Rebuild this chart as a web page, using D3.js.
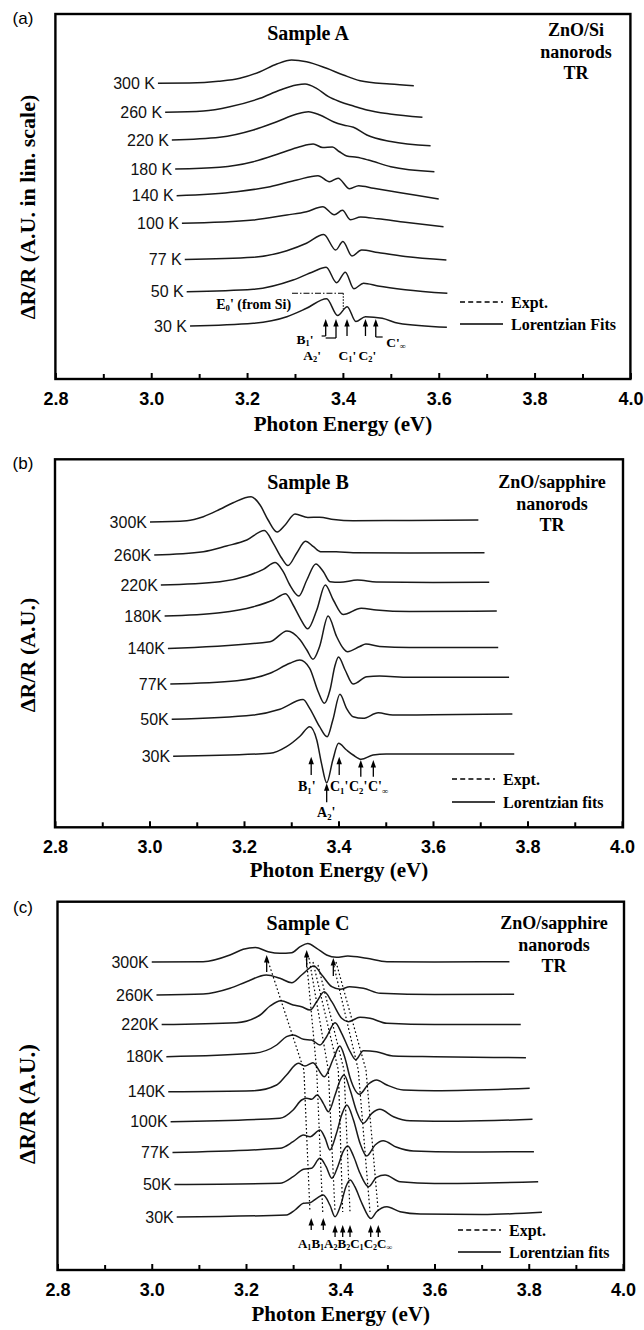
<!DOCTYPE html>
<html><head><meta charset="utf-8">
<script src="https://cdn.jsdelivr.net/npm/d3@7"></script>
<style>body{margin:0;background:#fff}</style>
</head><body>
<svg id="chart" width="644" height="1330"></svg>
<script>
// ---------------- DATA ----------------
const energyTicks = [2.8, 3.0, 3.2, 3.4, 3.6, 3.8, 4.0];
const energyMinorTicks = [2.9, 3.1, 3.3, 3.5, 3.7, 3.9];

// Panel (a) ZnO/Si
const tempsA = ["300 K","260 K","220 K","180 K","140 K","100 K","77 K","50 K","30 K"];
const offsetsA = [295.7,266.7,239,210,183.3,155.7,119.5,87.3,53];
const a300 = [[3.014,0],[3.08,0.3],[3.14,2],[3.185,5],[3.227,11.6],[3.262,19.3],[3.293,23.3],[3.324,21.6],[3.366,15],[3.401,8.3],[3.436,2.6],[3.498,-0.7],[3.548,-2.4]];
const a260 = [[3.029,0],[3.109,1.3],[3.164,5.6],[3.227,14],[3.269,22.3],[3.303,27.3],[3.321,28.3],[3.345,24],[3.37,15.6],[3.394,10.6],[3.422,6.3],[3.45,2.3],[3.498,-1.7],[3.566,-5]];
const a220 = [[3.043,0],[3.143,2.7],[3.213,10],[3.262,18.3],[3.304,26],[3.328,28.3],[3.352,25],[3.38,18.3],[3.401,15],[3.422,12.7],[3.45,5],[3.5,-1.5],[3.583,-5.7]];
const a180 = [[3.05,0],[3.143,1.7],[3.213,7.3],[3.269,15.7],[3.31,22.3],[3.338,25],[3.358,21.5],[3.378,22],[3.392,17.5],[3.408,13],[3.429,11.7],[3.453,9],[3.5,2.3],[3.591,-2.7]];
const a140 = [[3.053,0],[3.178,4],[3.248,9],[3.304,15.7],[3.348,20],[3.372,14],[3.39,17.5],[3.414,7],[3.433,10],[3.464,7.4],[3.52,3],[3.6,-3.3]];
const a100 = [[3.064,0],[3.213,3.3],[3.283,8.3],[3.324,11.6],[3.358,16.6],[3.382,8.5],[3.399,13],[3.416,3.5],[3.437,6.3],[3.473,4.5],[3.53,1],[3.61,-3.4]];
const a77  = [[3.07,0],[3.213,2.2],[3.283,8.8],[3.324,16.2],[3.36,25],[3.385,9.5],[3.4,18],[3.419,3.5],[3.439,9.5],[3.473,7],[3.53,3],[3.616,-0.5]];
const a50  = [[3.074,0],[3.213,2.4],[3.296,11.7],[3.338,20],[3.365,24.5],[3.387,9],[3.405,19.5],[3.423,3],[3.443,8.4],[3.473,5.7],[3.53,2],[3.618,-1.6]];
const a30  = [[3.081,0],[3.213,2.7],[3.283,9.3],[3.324,17.7],[3.366,27.3],[3.389,10.5],[3.409,19.3],[3.427,4.5],[3.447,9.3],[3.482,7.7],[3.516,2.7],[3.617,-1.3]];
const arrowsA = [[3.3641,60,43],[3.3856,60,41],[3.4086,60,43],[3.4471,60,43],[3.4686,60,42]];
const labelsA = [["B","1","'",3.3032,40],["A","2","'",3.3175,24],["C","1","'",3.3908,24],["C","2","'",3.4325,24],["C'","\u221E","",3.4905,37]];

// Panel (b) ZnO/sapphire
const tempsB = ["300K","260K","220K","180K","140K","77K","50K","30K"];
const offsetsB = [305.3,272.3,242.3,211.3,178.8,143.3,108,71];
const b300 = [[3.001,0],[3.079,1.3],[3.114,5.3],[3.149,12.7],[3.177,19.3],[3.215,25.3],[3.234,17],[3.251,2],[3.27,-10],[3.287,-3],[3.308,8],[3.335,4.5],[3.36,4.8],[3.39,2.5],[3.431,1.3],[3.55,1.5],[3.696,2]];
const b260 = [[3.01,0],[3.114,3.3],[3.163,9],[3.206,15],[3.243,24.5],[3.262,11.7],[3.28,-3.3],[3.293,-10.5],[3.312,2.3],[3.33,13.8],[3.347,8.3],[3.362,3.3],[3.395,3.3],[3.431,2.3],[3.55,2],[3.709,2.3]];
const b220 = [[3.024,0],[3.149,3.3],[3.206,9],[3.241,15.7],[3.266,22.5],[3.283,13.3],[3.297,0],[3.316,-11],[3.333,5],[3.352,21],[3.368,13.3],[3.382,3.3],[3.403,2.7],[3.44,5],[3.48,3],[3.6,2.5],[3.719,2.7]];
const b180 = [[3.032,0],[3.149,3.3],[3.22,9.3],[3.262,16],[3.288,22.3],[3.304,11],[3.319,-2.3],[3.335,-12.8],[3.354,6],[3.372,31],[3.389,16],[3.41,1.5],[3.448,7.7],[3.48,6],[3.55,4.5],[3.735,5]];
const b140 = [[3.039,0],[3.255,6.8],[3.291,17.5],[3.319,8.5],[3.333,-1.5],[3.346,-10.8],[3.36,2],[3.378,32.5],[3.396,12],[3.41,0.2],[3.419,-3.2],[3.445,2],[3.458,4.5],[3.487,2],[3.55,1],[3.738,1]];
const b77  = [[3.044,0],[3.185,3.3],[3.255,10.7],[3.297,20.7],[3.318,24],[3.339,15.7],[3.357,-7.7],[3.37,-19.3],[3.382,-6],[3.392,17.3],[3.4,27],[3.414,14],[3.431,0],[3.46,7.3],[3.487,8],[3.55,6.7],[3.761,6.7]];
const b50  = [[3.047,0],[3.22,4.3],[3.276,10],[3.325,19.7],[3.339,11],[3.36,-7.4],[3.376,-17.5],[3.388,-0.7],[3.403,25],[3.417,11],[3.431,2.6],[3.452,1],[3.484,6.5],[3.515,4.3],[3.6,4.5],[3.768,5.3]];
const b30  = [[3.05,0],[3.255,3],[3.29,9.6],[3.319,20.3],[3.339,29.6],[3.354,16.3],[3.364,-7],[3.375,-26.5],[3.388,-3.7],[3.4,13],[3.417,6.3],[3.431,1.3],[3.448,-3],[3.473,1.3],[3.501,2.3],[3.6,2.3],[3.772,2.3]];
const arrowsB = [[3.3422,70.6,52.3],[3.4015,70.6,52.3],[3.4472,67.3,50.6],[3.4737,67.3,50.6],[3.375,44,25]];
const labelsB = [["B","1","'",3.3143,41],["C","1","'",3.382,41],["C","2","'",3.4222,41],["C'","\u221E","",3.4624,41],["A","2","'",3.3545,15]];

// Panel (c) ZnO/sapphire
const tempsC = ["300K","260K","220K","180K","140K","100K","77K","50K","30K"];
const offsetsC = [308,275,245.5,213.3,178.3,148.3,117.5,85.5,53];
const c300 = [[3.0,0],[3.109,0.3],[3.166,7],[3.194,12.7],[3.22,14.5],[3.247,10.3],[3.272,8.7],[3.297,9.3],[3.315,15.3],[3.331,18.5],[3.35,13.7],[3.371,7],[3.392,4.7],[3.416,6],[3.456,3.7],[3.499,0.3],[3.6,0],[3.759,0.3]];
const c260 = [[3.01,0],[3.109,1],[3.166,6.7],[3.201,13.3],[3.243,20],[3.272,16.7],[3.297,12.3],[3.318,20],[3.344,29],[3.361,20],[3.382,8.3],[3.4,5.7],[3.42,8.3],[3.449,6.7],[3.485,1.7],[3.6,0.5],[3.769,0.7]];
const c220 = [[3.021,0],[3.18,1.8],[3.23,9.5],[3.251,18.5],[3.274,23.8],[3.3,19.5],[3.318,17.8],[3.336,14.5],[3.35,22.8],[3.366,32.8],[3.382,22.8],[3.403,6.2],[3.417,2.8],[3.442,7.2],[3.463,6.2],[3.499,1.2],[3.6,0],[3.783,0]];
const c180 = [[3.031,0],[3.216,3.4],[3.265,11.7],[3.286,20],[3.3,21.7],[3.322,17.4],[3.339,16.7],[3.357,11.7],[3.371,20],[3.389,34],[3.403,23.4],[3.421,5],[3.433,-3],[3.449,6],[3.477,5],[3.512,0.7],[3.6,0],[3.794,-1]];
const c140 = [[3.035,0],[3.216,1],[3.265,6.7],[3.286,16.7],[3.311,28.4],[3.325,25.7],[3.342,29],[3.366,15],[3.386,33.7],[3.399,45.7],[3.41,33.7],[3.421,13.7],[3.441,-2.5],[3.46,7.7],[3.477,11.7],[3.499,6.7],[3.534,1.7],[3.6,1],[3.802,3.4]];
const c100 = [[3.04,0],[3.272,3.4],[3.3,11.7],[3.318,21.7],[3.329,23.4],[3.339,22.4],[3.351,26.7],[3.364,18.4],[3.375,10],[3.389,26.7],[3.4,41.7],[3.408,46.7],[3.421,31.7],[3.435,10],[3.449,-1.6],[3.467,8.4],[3.484,12.4],[3.513,5],[3.548,1],[3.65,0.5],[3.808,2.4]];
const c77  = [[3.044,0],[3.272,4.2],[3.3,10.8],[3.322,17.5],[3.336,15.8],[3.357,22.5],[3.368,14.2],[3.378,2.5],[3.392,19.2],[3.403,37.5],[3.414,47.5],[3.428,32.5],[3.442,9.2],[3.456,-3.5],[3.474,7.5],[3.491,11.8],[3.52,5.2],[3.555,1.5],[3.65,0.5],[3.811,0.8]];
const c50  = [[3.048,0],[3.272,1.2],[3.3,7.8],[3.322,15.2],[3.339,16.2],[3.357,26.2],[3.37,17.8],[3.382,6.2],[3.396,19.5],[3.406,32.8],[3.416,38.5],[3.428,28.5],[3.442,11.2],[3.46,-2.2],[3.477,7.2],[3.495,9.5],[3.527,2.8],[3.6,1],[3.82,2.8]];
const c30  = [[3.053,0],[3.286,2],[3.304,7],[3.322,13.7],[3.336,14.3],[3.35,18.7],[3.364,22],[3.378,12],[3.389,0.3],[3.401,12],[3.412,30.3],[3.421,37],[3.431,30.3],[3.446,13.7],[3.465,-1.5],[3.477,5.3],[3.499,10.3],[3.527,5.3],[3.57,3],[3.7,2.5],[3.828,4.7]];
const guideLinesC = [
  [[3.2446,312],[3.3229,200],[3.3357,58]],
  [[3.3273,315],[3.35,200],[3.3628,58]],
  [[3.3337,312],[3.3746,200],[3.3889,58]],
  [[3.3422,308],[3.3959,200],[3.4052,58]],
  [[3.3528,305],[3.408,200],[3.4207,58]],
  [[3.3846,308],[3.4383,200],[3.4631,58]],
  [[3.391,308],[3.4546,200],[3.4807,58]]
];
const arrowsC = [[3.2439,315,298],[3.3288,320,303],[3.3853,312,294],
  [3.3384,52,40],[3.364,52,40],[3.389,45,33],[3.4052,45,33],[3.4207,45,33],[3.4646,45,33],[3.4807,45,33]];
const labelC = [["A","1"],["B","1"],["A","2"],["B","2"],["C","1"],["C","2"],["C","\u221E"]];

// ---------------- DRAWING ----------------
const svg = d3.select("#chart");
const SERIF = "'Liberation Serif','Times New Roman',serif";
const SANS = "'Liberation Sans',Arial,sans-serif";

function subText(g, x, y, parts, size, anchor) {
  const t = g.append("text").attr("x", x).attr("y", y)
    .attr("font-family", SERIF).attr("font-weight", "bold").attr("font-size", size)
    .attr("text-anchor", anchor || "start").attr("dominant-baseline", "central").attr("fill", "#000");
  const sh = size * 0.3;
  let shifted = false;
  parts.forEach(([main, sub, post]) => {
    const m = t.append("tspan").text(main);
    if (shifted) { m.attr("dy", -sh); shifted = false; }
    if (sub) { t.append("tspan").attr("font-size", size * 0.62).attr("dy", sh).text(sub); shifted = true; }
    if (post) {
      const p = t.append("tspan").text(post);
      if (shifted) { p.attr("dy", -sh); shifted = false; }
    }
  });
  return t;
}

function drawPanel(cfg, temps, offsets, curves) {
  const g = svg.append("g");
  const x = d3.scaleLinear().domain([2.8, 4.0]).range([cfg.left, cfg.right]);
  const y = d3.scaleLinear().domain([0, cfg.bottom - cfg.top]).range([cfg.bottom, cfg.top]);

  const gMaj = g.append("g").attr("transform", `translate(0,${cfg.bottom})`)
    .call(d3.axisBottom(x).tickValues(energyTicks).tickSize(-6).tickPadding(13).tickFormat(d3.format(".1f")));
  const gMin = g.append("g").attr("transform", `translate(0,${cfg.bottom})`)
    .call(d3.axisBottom(x).tickValues(energyMinorTicks).tickSize(-5).tickFormat(""));
  [gMaj, gMin].forEach(a => {
    a.select(".domain").remove();
    a.selectAll("line").attr("stroke", "#000").attr("stroke-width", 2);
  });
  gMaj.selectAll("text").attr("font-family", SANS).attr("font-weight", "bold")
    .attr("font-size", 18).attr("fill", "#000");

  g.append("rect").attr("x", cfg.left).attr("y", cfg.top)
    .attr("width", cfg.frameRight - cfg.left).attr("height", cfg.bottom - cfg.top)
    .attr("fill", "none").attr("stroke", "#000").attr("stroke-width", 2.4);

  const line = d3.line().x(d => x(d[0])).y(d => y(d[1])).curve(d3.curveMonotoneX);
  curves.forEach((c, i) => {
    const pts = c.map(p => [p[0], offsets[i] + p[1]]);
    g.append("path").attr("d", line(pts)).attr("fill", "none")
      .attr("stroke", "#1a1a1a").attr("stroke-width", 1.5).attr("stroke-linejoin", "round");
    g.append("text").attr("x", x(c[0][0]) - 3).attr("y", y(offsets[i]))
      .attr("text-anchor", "end").attr("dominant-baseline", "central")
      .attr("font-family", SANS).attr("font-size", 16).attr("fill", "#111").text(temps[i]);
  });

  g.append("text").attr("x", 23).attr("y", cfg.tagY).attr("text-anchor", "middle")
    .attr("dominant-baseline", "central").attr("font-family", SANS).attr("font-size", 17).text(cfg.tag);
  g.append("text").attr("x", 308).attr("y", cfg.titleY).attr("text-anchor", "middle")
    .attr("dominant-baseline", "central").attr("font-family", SERIF).attr("font-weight", "bold")
    .attr("font-size", 20).text(cfg.title);
  cfg.sideLines.forEach((s, k) => {
    g.append("text").attr("x", cfg.sideX).attr("y", cfg.sideY + k * 21.5).attr("text-anchor", "middle")
      .attr("dominant-baseline", "central").attr("font-family", SERIF).attr("font-weight", "bold")
      .attr("font-size", 18).text(s);
  });
  g.append("text").attr("x", (cfg.left + cfg.frameRight) / 2).attr("y", cfg.xTitleY).attr("text-anchor", "middle")
    .attr("dominant-baseline", "central").attr("font-family", SERIF).attr("font-weight", "bold")
    .attr("font-size", 21).text("Photon Energy (eV)");
  g.append("text").attr("transform", `translate(27,${cfg.yTitleY}) rotate(-90)`).attr("text-anchor", "middle")
    .attr("dominant-baseline", "central").attr("font-family", SERIF).attr("font-weight", "bold")
    .attr("font-size", cfg.yTitleSize).text(cfg.yTitle);

  const lx = cfg.legendX, ly = cfg.legendY;
  g.append("line").attr("x1", lx).attr("x2", lx + 43).attr("y1", ly).attr("y2", ly)
    .attr("stroke", "#000").attr("stroke-width", 1.4).attr("stroke-dasharray", "5,3.2");
  g.append("line").attr("x1", lx).attr("x2", lx + 43).attr("y1", ly + cfg.legendGap).attr("y2", ly + cfg.legendGap)
    .attr("stroke", "#000").attr("stroke-width", 1.5);
  [["Expt.", ly], [cfg.fitLabel, ly + cfg.legendGap]].forEach(([t, yy]) => {
    g.append("text").attr("x", lx + 51).attr("y", yy).attr("dominant-baseline", "central")
      .attr("font-family", SERIF).attr("font-weight", "bold").attr("font-size", 16).text(t);
  });
  return {g, x, y};
}

function arrow(g, x, y, a) {
  const [E, tip, base] = a;
  const X = x(E), yt = y(tip), yb = y(base);
  g.append("line").attr("x1", X).attr("x2", X).attr("y1", yb).attr("y2", yt + 5)
    .attr("stroke", "#000").attr("stroke-width", 1.3);
  g.append("path").attr("d", `M${X},${yt}L${X - 2.7},${yt + 7.5}L${X + 2.7},${yt + 7.5}Z`).attr("fill", "#000");
}

// ---- Panel (a)
const PA = drawPanel({tag:"(a)", tagY:18, left:55.4, right:630.4, frameRight:630.4, top:14, bottom:379,
  title:"Sample A", titleY:33, sideLines:["ZnO/Si","nanorods","TR"], sideX:576, sideY:30,
  xTitleY:424, yTitleY:207, yTitle:"\u0394R/R (A.U. in lin. scale)", yTitleSize:22,
  legendX:460, legendY:302, legendGap:22, fitLabel:"Lorentzian Fits"},
  tempsA, offsetsA, [a300,a260,a220,a180,a140,a100,a77,a50,a30]);
arrowsA.forEach(a => arrow(PA.g, PA.x, PA.y, a));
labelsA.forEach(l => subText(PA.g, PA.x(l[3]), PA.y(l[4]), [[l[0], l[1], l[2]]], 13.5));
[[arrowsA[0][0], arrowsA[0][2], 3.3556], [arrowsA[1][0], arrowsA[1][2], 3.3640], [arrowsA[4][0], arrowsA[4][2], 3.4830]]
  .forEach(([E, v, E2]) => PA.g.append("line").attr("x1", PA.x(E)).attr("x2", PA.x(E2))
    .attr("y1", PA.y(v)).attr("y2", PA.y(v)).attr("stroke", "#000").attr("stroke-width", 1.2));
PA.g.append("path").attr("d", `M${PA.x(3.2937)},${PA.y(85.7)}H${PA.x(3.4008)}`)
  .attr("stroke", "#000").attr("stroke-width", 1.1).attr("stroke-dasharray", "6,2,1.5,2").attr("fill", "none");
PA.g.append("path").attr("d", `M${PA.x(3.4008)},${PA.y(85.7)}V${PA.y(70)}`)
  .attr("stroke", "#000").attr("stroke-width", 1.1).attr("stroke-dasharray", "1.5,1.5").attr("fill", "none");
subText(PA.g, PA.x(3.1356), PA.y(75), [["E", "0", "' (from Si)"]], 14);

// ---- Panel (b)
const PB = drawPanel({tag:"(b)", tagY:463, left:55, right:622, frameRight:623, top:459.3, bottom:827.3,
  title:"Sample B", titleY:482, sideLines:["ZnO/sapphire","nanorods","TR"], sideX:552, sideY:482,
  xTitleY:870, yTitleY:655, yTitle:"\u0394R/R (A.U.)", yTitleSize:22,
  legendX:452, legendY:779, legendGap:23, fitLabel:"Lorentzian fits"},
  tempsB, offsetsB, [b300,b260,b220,b180,b140,b77,b50,b30]);
arrowsB.forEach(a => arrow(PB.g, PB.x, PB.y, a));
labelsB.forEach(l => subText(PB.g, PB.x(l[3]), PB.y(l[4]), [[l[0], l[1], l[2]]], 14));

// ---- Panel (c)
const PC = drawPanel({tag:"(c)", tagY:907, left:57.5, right:623, frameRight:624, top:901.7, bottom:1270,
  title:"Sample C", titleY:923, sideLines:["ZnO/sapphire","nanorods","TR"], sideX:554, sideY:923,
  xTitleY:1314, yTitleY:1104, yTitle:"\u0394R/R (A.U.)", yTitleSize:23,
  legendX:458, legendY:1230, legendGap:22, fitLabel:"Lorentzian fits"},
  tempsC, offsetsC, [c300,c260,c220,c180,c140,c100,c77,c50,c30]);
const dotLine = d3.line().x(d => PC.x(d[0])).y(d => PC.y(d[1]));
guideLinesC.forEach(l => PC.g.append("path").attr("d", dotLine(l)).attr("fill", "none")
  .attr("stroke", "#000").attr("stroke-width", 1.2).attr("stroke-dasharray", "1.6,2.4"));
arrowsC.forEach(a => arrow(PC.g, PC.x, PC.y, a));
subText(PC.g, PC.x(3.3103), PC.y(27), labelC.map(p => [p[0], p[1], ""]), 13);
</script>
</body></html>
